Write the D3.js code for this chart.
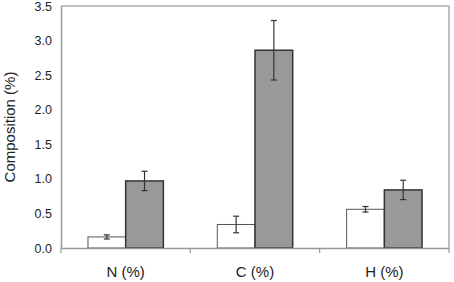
<!DOCTYPE html>
<html>
<head>
<meta charset="utf-8">
<script src="https://cdn.jsdelivr.net/npm/d3@7"></script>
<style>
  body { margin: 0; background: #fff; }
  text { font-family: "Liberation Sans", Arial, sans-serif; fill: #222; }
</style>
</head>
<body>
<div id="chart"></div>
<script>
// data
var categories = ["N (%)", "C (%)", "H (%)"];
var seriesA = [0.16, 0.34, 0.56];      // white bars
var seriesAErr = [0.03, 0.12, 0.04];
var seriesB = [0.97, 2.86, 0.84];      // gray bars
var seriesBErr = [0.14, 0.43, 0.14];
var yTicks = [0, 0.5, 1.0, 1.5, 2.0, 2.5, 3.0, 3.5];

var svgWidth = 454, svgHeight = 282;
var margin = {top: 6, right: 5, bottom: 34, left: 61};
var graphWidth = svgWidth - margin.left - margin.right;
var graphHeight = svgHeight - margin.top - margin.bottom;

var svg = d3.select("#chart").append("svg")
    .attr("width", svgWidth)
    .attr("height", svgHeight)
  .append("g")
    .attr("transform", "translate(" + margin.left + "," + margin.top + ")");

var y = d3.scaleLinear().domain([0, 3.5]).range([graphHeight, 0]);
var x = d3.scaleBand().domain(categories).range([0, graphWidth]).paddingInner(0).paddingOuter(0);
var barW = x.bandwidth() * 0.2915;

var rows = categories.map(function (c, i) {
    return {cat: c, a: seriesA[i], ae: seriesAErr[i], b: seriesB[i], be: seriesBErr[i]};
});

// frame (top and right)
svg.append("line").attr("x1", 0).attr("x2", graphWidth).attr("y1", 0).attr("y2", 0)
    .attr("stroke", "#aaa").attr("stroke-width", 1.5);
svg.append("line").attr("x1", graphWidth).attr("x2", graphWidth).attr("y1", 0).attr("y2", graphHeight)
    .attr("stroke", "#aaa").attr("stroke-width", 1.5);

// Y axis
var yAxis = svg.append("g")
    .call(d3.axisLeft(y).tickValues(yTicks).tickFormat(d3.format(".1f")).tickSize(0).tickPadding(9));
yAxis.select(".domain").attr("stroke", "#999").attr("stroke-width", 1.5);
yAxis.selectAll("text").style("font-size", "12.5px").attr("fill", "#222");

// bars
var groups = svg.selectAll(".grp").data(rows).enter().append("g")
    .attr("transform", function (d) { return "translate(" + (x(d.cat) + x.bandwidth() / 2) + ",0)"; });

groups.append("rect")
    .attr("x", -barW).attr("width", barW)
    .attr("y", function (d) { return y(d.a); })
    .attr("height", function (d) { return y(0) - y(d.a); })
    .attr("fill", "#fff").attr("stroke", "#555").attr("stroke-width", 1);

groups.append("rect")
    .attr("x", 0).attr("width", barW)
    .attr("y", function (d) { return y(d.b); })
    .attr("height", function (d) { return y(0) - y(d.b); })
    .attr("fill", "#999").attr("stroke", "#333").attr("stroke-width", 1.5);

// error bars
function errBar(sel, cx, val, err) {
    sel.append("line").attr("x1", cx).attr("x2", cx)
        .attr("y1", function (d) { return y(val(d) + err(d)); })
        .attr("y2", function (d) { return y(val(d) - err(d)); })
        .attr("stroke", "#333").attr("stroke-width", 1.2);
    [1, -1].forEach(function (s) {
        sel.append("line").attr("x1", cx - 3).attr("x2", cx + 3)
            .attr("y1", function (d) { return y(val(d) + s * err(d)); })
            .attr("y2", function (d) { return y(val(d) + s * err(d)); })
            .attr("stroke", "#333").attr("stroke-width", 1.2);
    });
}
errBar(groups, -barW / 2, function (d) { return d.a; }, function (d) { return d.ae; });
errBar(groups, barW / 2, function (d) { return d.b; }, function (d) { return d.be; });

// X axis
var xAxis = svg.append("g").attr("transform", "translate(0," + graphHeight + ")")
    .call(d3.axisBottom(x).tickSize(0).tickPadding(18));
xAxis.select(".domain").attr("stroke", "#999").attr("stroke-width", 1.5);
xAxis.selectAll("text").style("font-size", "15px").attr("fill", "#222");
// category boundary ticks
xAxis.selectAll(".sep").data(d3.range(categories.length + 1)).enter().append("line")
    .attr("x1", function (i) { return i * x.step(); })
    .attr("x2", function (i) { return i * x.step(); })
    .attr("y1", 0).attr("y2", 5)
    .attr("stroke", "#999").attr("stroke-width", 1.2);

// Y label
svg.append("text")
    .attr("transform", "translate(" + (-46) + "," + (graphHeight / 2) + ") rotate(-90)")
    .attr("text-anchor", "middle")
    .style("font-size", "15px")
    .text("Composition (%)");
</script>
</body>
</html>
